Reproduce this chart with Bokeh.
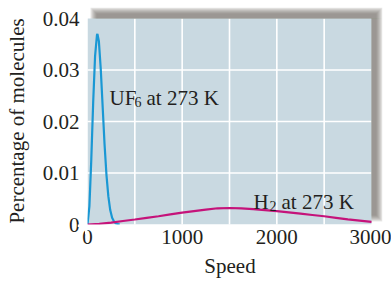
from bokeh.plotting import figure
from bokeh.models import BoxAnnotation, Label, FixedTicker
from bokeh.embed import file_html
from bokeh.resources import INLINE

# ---- data ----
speed_uf6 = [0, 20, 40, 60, 80, 100, 105, 120, 140, 160, 180, 200, 220, 240, 260, 280, 300, 320, 340]
pct_uf6 = [0, 0.0035, 0.0126, 0.0237, 0.0327, 0.0368, 0.0370, 0.0356, 0.0302, 0.0229, 0.0156,
           0.0097, 0.0055, 0.0028, 0.0013, 0.0006, 0.0002, 0.0001, 0]
speed_h2 = [0, 125, 250, 375, 500, 625, 750, 875, 1000, 1125, 1250, 1375, 1500, 1625, 1750,
            1875, 2000, 2125, 2250, 2375, 2500, 2625, 2750, 2875, 3000]
pct_h2 = [0, 0.00012, 0.00038, 0.00068, 0.00097, 0.0013, 0.0016, 0.00195, 0.0023, 0.0026,
          0.0029, 0.00315, 0.0032, 0.00315, 0.0030, 0.0028, 0.0026, 0.00235, 0.0021,
          0.00185, 0.0016, 0.0013, 0.0010, 0.00075, 0.0005]

x_ticks = [0, 1000, 2000, 3000]
x_minor = [500, 1500, 2500]
y_ticks = [0, 0.01, 0.02, 0.03, 0.04]
y_tick_labels = ["0", "0.01", "0.02", "0.03", "0.04"]

FONT = "Liberation Serif"
TXT = "#231f20"
X_MAX, Y_MAX = 3000, 0.04

# panel of 284 x 206 px; the frame is padded so the drop shadow can be drawn inside it
PW, PH = 284, 206
dx = X_MAX / PW
dy = Y_MAX / PH
EL, EB, ET, ER = 10, 10, 11, 11

p = figure(width=391, height=283,
           x_range=(-EL * dx, X_MAX + ER * dx), y_range=(-EB * dy, Y_MAX + ET * dy),
           output_backend="svg", toolbar_location=None,
           min_border_left=87 - EL, min_border_right=391 - 87 - PW - ER,
           min_border_top=18 - ET, min_border_bottom=283 - 18 - PH - EB)
p.background_fill_color = "white"
p.border_fill_color = "white"
p.outline_line_color = None
p.xgrid.visible = False
p.ygrid.visible = False

# panel background
p.add_layout(BoxAnnotation(left=0, right=X_MAX, bottom=0, top=Y_MAX, fill_color="#c9d9e1",
                           fill_alpha=1.0, line_color=None, level="image"))

# white grid lines inside the panel only
gx = sorted(t for t in x_ticks + x_minor if 0 < t < X_MAX)
gy = [t for t in y_ticks if 0 < t < Y_MAX]
p.segment(x0=gx, y0=[0] * len(gx), x1=gx, y1=[Y_MAX] * len(gx), line_color="white", line_width=1.6)
p.segment(x0=[0] * len(gy), y0=gy, x1=[X_MAX] * len(gy), y1=gy, line_color="white", line_width=1.6)

p.line(speed_uf6, pct_uf6, line_color="#1a98d4", line_width=2.2)
p.line(speed_h2, pct_h2, line_color="#c5137a", line_width=2.2)

# thin white edges so the curves are cut at the panel border
white = dict(fill_color="white", fill_alpha=1.0, line_color=None, level="annotation")
p.add_layout(BoxAnnotation(top=0, bottom=-2.5 * dy, **white))
p.add_layout(BoxAnnotation(right=0, left=-2.5 * dx, **white))

# soft drop shadow (offset up/right), only outside the panel
for g in [4, 3, 2, 1, 0, -1, -2]:
    L = (7 - g) * dx
    R = X_MAX + (7 + g) * dx
    B = (7 - g) * dy
    T = Y_MAX + (7 + g) * dy
    sh = dict(fill_color="#67645b", fill_alpha=0.14, line_color=None, level="annotation")
    p.add_layout(BoxAnnotation(left=L, right=R, bottom=Y_MAX, top=T, **sh))
    p.add_layout(BoxAnnotation(left=X_MAX, right=R, bottom=B, top=Y_MAX, **sh))

p.xaxis.ticker = FixedTicker(ticks=x_ticks, minor_ticks=x_minor)
p.yaxis.ticker = FixedTicker(ticks=y_ticks)
p.yaxis.major_label_overrides = {t: l for t, l in zip(y_ticks, y_tick_labels)}

for ax in (p.xaxis[0], p.yaxis[0]):
    ax.axis_line_color = None
    ax.major_tick_line_color = None
    ax.minor_tick_line_color = None
    ax.major_tick_out = 0
    ax.major_tick_in = 0
    ax.minor_tick_out = 0
    ax.major_label_text_font = FONT
    ax.major_label_text_font_size = "21px"
    ax.major_label_text_color = TXT
    ax.axis_label_text_font = FONT
    ax.axis_label_text_font_size = "21px"
    ax.axis_label_text_font_style = "normal"
    ax.axis_label_text_color = TXT

p.xaxis.axis_label = "Speed"
p.yaxis.axis_label = "Percentage of molecules"
p.xaxis.major_label_standoff = 5 - EB
p.yaxis.major_label_standoff = 8 - EL
p.xaxis.axis_label_standoff = 7
p.yaxis.axis_label_standoff = 11

def add_label(x, y, text, size):
    p.add_layout(Label(x=x, y=y, text=text, text_font=FONT, text_font_size=size,
                       text_color=TXT, text_baseline="alphabetic", text_align="left"))

# UF6 label
add_label(232, 0.02466, "UF", "21px")
add_label(496, 0.02388, "6", "14px")
add_label(623, 0.02466, "at 273 K", "21px")
# H2 label
add_label(1754, 0.00437, "H", "21px")
add_label(1923, 0.00359, "2", "14px")
add_label(2049, 0.00437, "at 273 K", "21px")

open("out.html", "w").write(file_html(p, INLINE))
